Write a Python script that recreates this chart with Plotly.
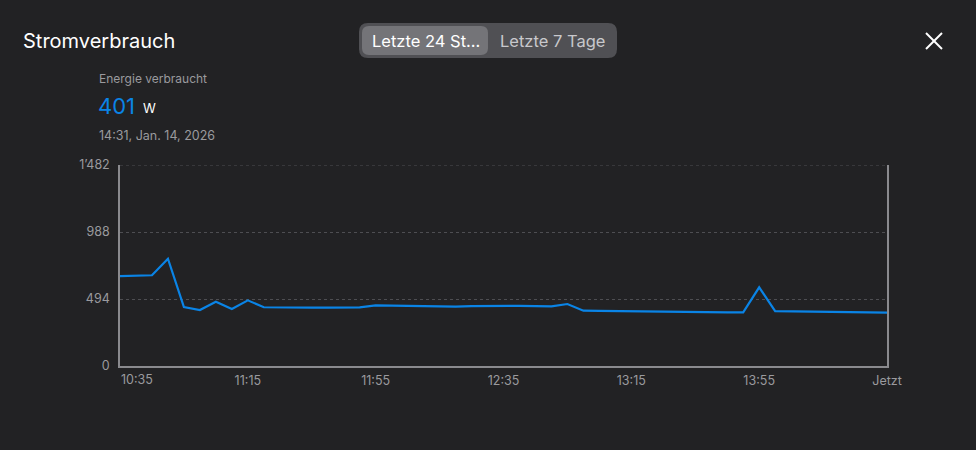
import plotly.graph_objects as go
import pandas as pd

# ---- data ----
start_time = "2026-01-14 10:35"
interval_min = 5
power_w = [663, 666, 669, 791, 435, 413, 474, 420, 484, 433,
           431, 431, 431, 431, 431, 432, 447, 445, 443, 440,
           436, 438, 441, 443, 445, 444, 442, 439, 457, 408,
           407, 405, 404, 402, 400, 399, 398, 397, 396, 396,
           580, 405, 404, 403, 402, 399, 396, 394, 393]
times = pd.date_range(start_time, periods=len(power_w), freq=f"{interval_min}min")

x_tick_vals = ["2026-01-14 10:35", "2026-01-14 11:15", "2026-01-14 11:55",
               "2026-01-14 12:35", "2026-01-14 13:15", "2026-01-14 13:55",
               "2026-01-14 14:35"]
x_tick_text = ["10:35", "11:15", "11:55", "12:35", "13:15", "13:55", "Jetzt"]
y_tick_vals = [0, 494, 988, 1482]
y_tick_text = ["0", "494", "988", "1’482"]

title_text = "Stromverbrauch"
metric_label = "Energie verbraucht"
current_value = "401"
current_unit = "W"
timestamp_text = "14:31, Jan. 14, 2026"
segments = ["Letzte 24 St...", "Letzte 7 Tage"]

# ---- layout geometry (pixels) ----
W, H = 976, 450
L, R, T, B = 120, 887, 165, 366
BG = "#222224"
BLUE = "#0a84e6"
GRAY = "#9a9a9e"
GRID = "#4e4e52"
FONT = "Inter, Roboto, sans-serif"


def px(xp):
    return (xp - L) / (R - L)


def py(yp):
    return (B - yp) / (B - T)


def rrect(x0, y0, x1, y1, r):
    def P(a, b):
        return f"{px(a):.5f},{py(b):.5f}"
    return (f"M {P(x0 + r, y0)} L {P(x1 - r, y0)} Q {P(x1, y0)} {P(x1, y0 + r)} "
            f"L {P(x1, y1 - r)} Q {P(x1, y1)} {P(x1 - r, y1)} "
            f"L {P(x0 + r, y1)} Q {P(x0, y1)} {P(x0, y1 - r)} "
            f"L {P(x0, y0 + r)} Q {P(x0, y0)} {P(x0 + r, y0)} Z")


fig = go.Figure()
fig.add_trace(go.Scatter(x=times, y=power_w, mode="lines",
                         line=dict(color=BLUE, width=2.2), hoverinfo="skip"))

shapes = [
    # top gridline at the range edge (plotly hides edge gridlines)
    dict(type="line", xref="paper", yref="y", x0=0, x1=1,
         y0=y_tick_vals[-1], y1=y_tick_vals[-1],
         line=dict(color=GRID, width=1, dash="3px,3px"), layer="below"),
    dict(type="path", xref="paper", yref="paper", path=rrect(359, 23, 617, 58, 9),
         fillcolor="#505054", line=dict(width=0), layer="above"),
    dict(type="path", xref="paper", yref="paper", path=rrect(362, 26, 488, 55, 7),
         fillcolor="#747478", line=dict(width=0), layer="above"),
    dict(type="line", xref="paper", yref="paper", x0=px(926), y0=py(33), x1=px(942), y1=py(49),
         line=dict(color="white", width=2)),
    dict(type="line", xref="paper", yref="paper", x0=px(926), y0=py(49), x1=px(942), y1=py(33),
         line=dict(color="white", width=2)),
]

annotations = [
    dict(text=title_text, x=px(21), y=py(41), xanchor="left", yanchor="middle",
         font=dict(size=20, color="white", family=FONT)),
    dict(text=metric_label, x=px(97), y=py(78), xanchor="left", yanchor="middle",
         font=dict(size=12, color=GRAY, family=FONT)),
    dict(text=current_value, x=px(96), y=py(106), xanchor="left", yanchor="middle",
         font=dict(size=22, color=BLUE, family=FONT)),
    dict(text=current_unit, x=px(141), y=py(108), xanchor="left", yanchor="middle",
         font=dict(size=13, color="white", family=FONT)),
    dict(text=timestamp_text, x=px(97), y=py(135), xanchor="left", yanchor="middle",
         font=dict(size=12.5, color=GRAY, family=FONT)),
    dict(text=segments[0], x=px(426), y=py(41), xanchor="center", yanchor="middle",
         font=dict(size=16.5, color="white", family=FONT)),
    dict(text=segments[1], x=px(552), y=py(41), xanchor="center", yanchor="middle",
         font=dict(size=16.5, color="#c8c8cc", family=FONT)),
    # first x tick label is left-aligned to the axis start
    dict(text=x_tick_text[0], x=px(119), y=py(379), xanchor="left", yanchor="middle",
         font=dict(size=12.5, color=GRAY, family=FONT)),
]
for a in annotations:
    a.update(xref="paper", yref="paper", showarrow=False)

x_tick_text_axis = [""] + x_tick_text[1:]

fig.update_layout(
    width=W, height=H,
    margin=dict(l=L, r=W - R, t=T, b=H - B, pad=0),
    paper_bgcolor=BG, plot_bgcolor=BG,
    showlegend=False,
    shapes=shapes, annotations=annotations,
    font=dict(family=FONT, color=GRAY, size=12),
    xaxis=dict(
        range=[x_tick_vals[0], x_tick_vals[-1]],
        tickmode="array", tickvals=x_tick_vals, ticktext=x_tick_text_axis,
        showgrid=False, zeroline=False,
        showline=True, linecolor="#8a8a8e", linewidth=1.5,
        ticks="outside", ticklen=2, tickcolor=BG,
        tickfont=dict(size=12.5, color=GRAY, family=FONT),
    ),
    yaxis=dict(
        range=[0, 1482],
        tickmode="array", tickvals=y_tick_vals, ticktext=y_tick_text,
        showgrid=True, gridcolor=GRID, griddash="3px,3px", gridwidth=1,
        zeroline=False,
        showline=True, mirror=True, linecolor="#8a8a8e", linewidth=1.5,
        ticks="outside", ticklen=6, tickcolor=BG,
        tickfont=dict(size=12.5, color=GRAY, family=FONT),
    ),
)

fig.write_html("out.html", config={"displayModeBar": False},
               post_script="document.body.style.margin='0';")
